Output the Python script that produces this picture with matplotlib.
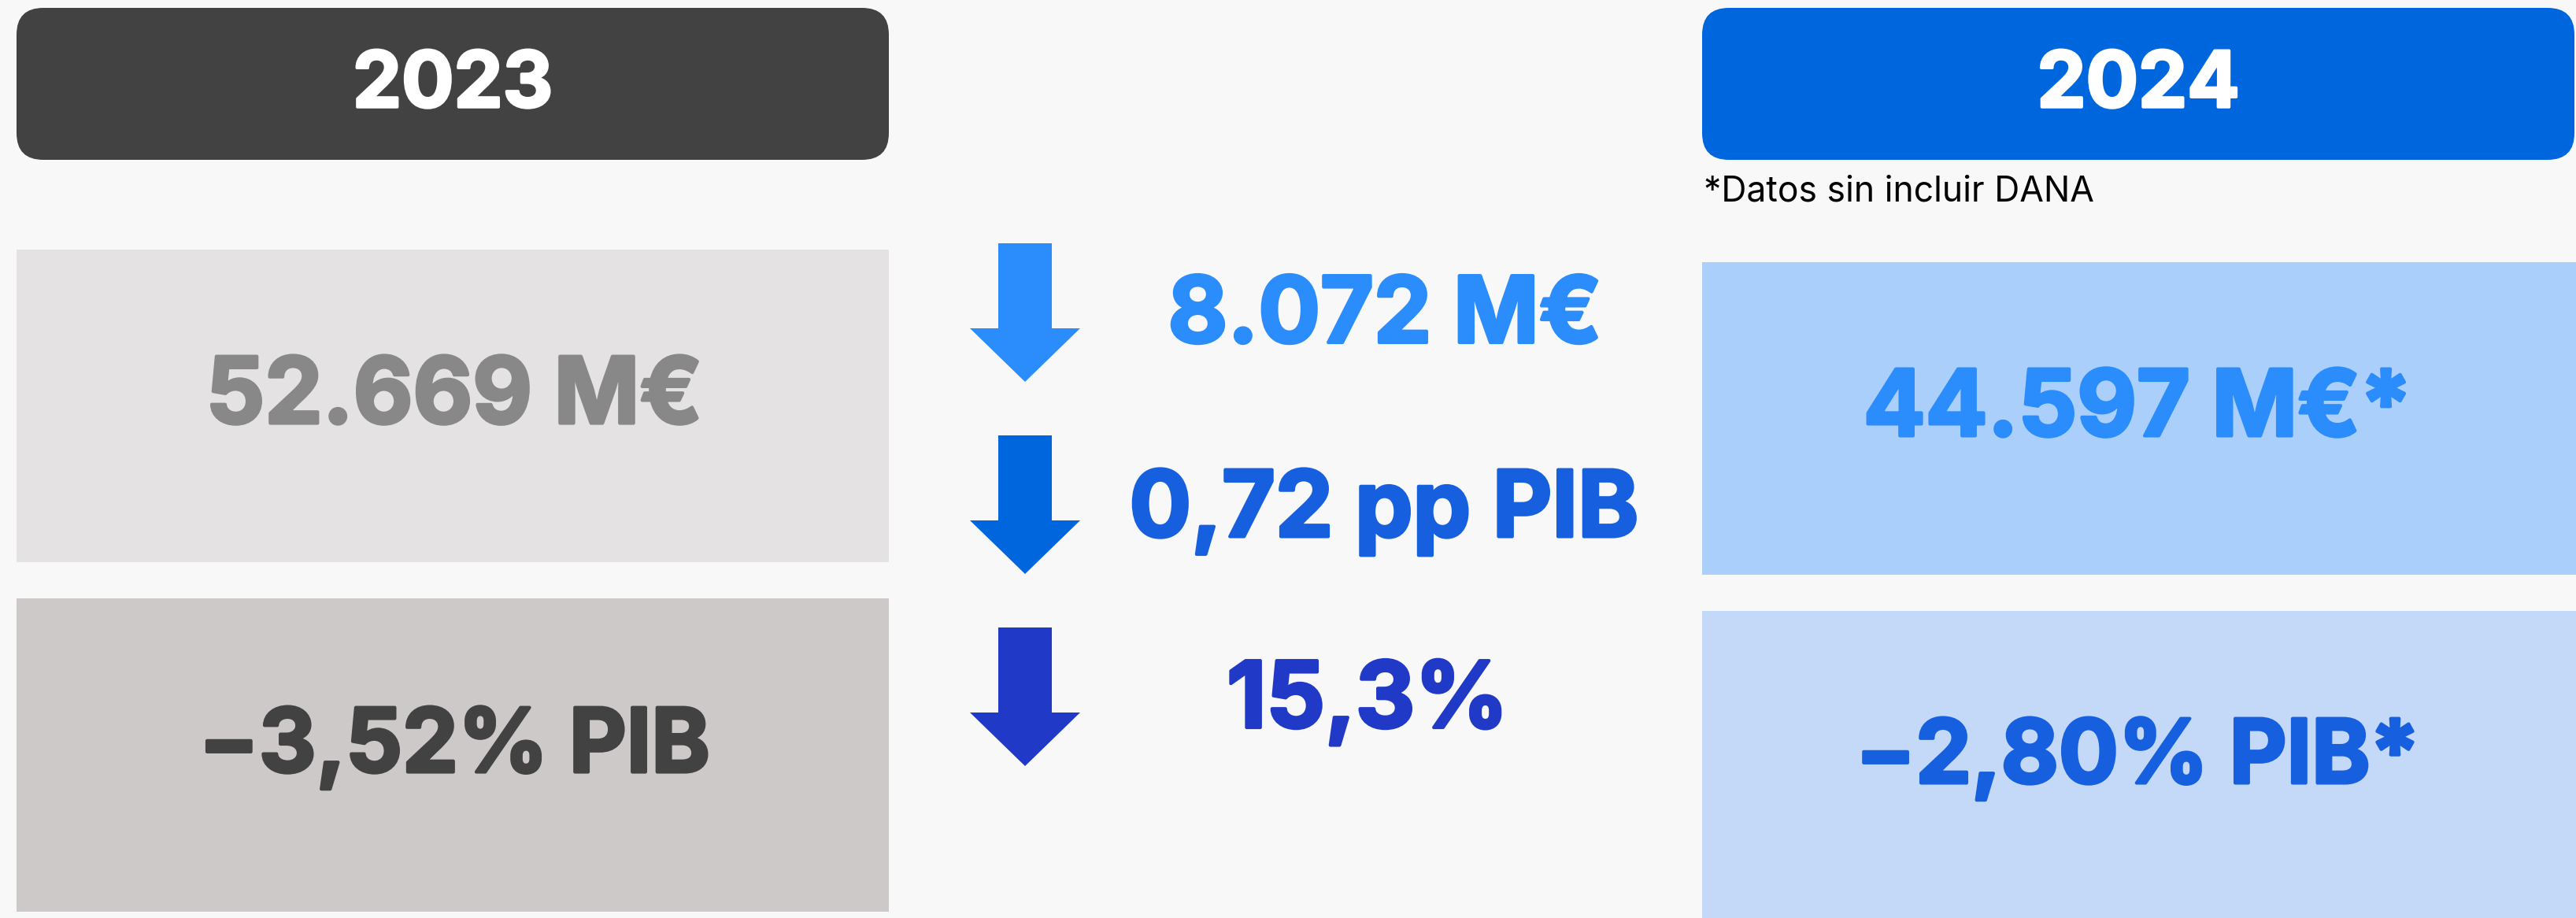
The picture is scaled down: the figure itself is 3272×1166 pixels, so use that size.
import matplotlib.pyplot as plt
import matplotlib.patheffects as pe
from matplotlib.patches import FancyBboxPatch, Rectangle, FancyArrow

# datos
years = ['2023', '2024']
deficit_meur = ['52.669 M€', '44.597 M€*']
deficit_pib = ['−3,52% PIB', '−2,80% PIB*']
changes = ['8.072 M€', '0,72 pp PIB', '15,3%']
note = '*Datos sin incluir DANA'

# estilos
bg = '#F8F8F8'
head_colors = ['#424242', '#0066DD']
box1_colors = ['#E4E2E3', '#AACFFB']
box2_colors = ['#CDC9C8', '#C4D8F7']
txt1_colors = ['#898888', '#2B8CFC']
txt2_colors = ['#424242', '#1660E0']
change_colors = ['#2B8CFC', '#1660E0', '#2139C7']
arrow_colors = ['#2B8CFC', '#0066DD', '#2139C7']

FONT = ['Inter', 'DejaVu Sans']


def bold(c, lw=3.0):
    return [pe.withStroke(linewidth=lw, foreground=c)]


W, H = 3272, 1166
fig = plt.figure(figsize=(W / 100, H / 100), dpi=100, facecolor=bg)
ax = fig.add_axes([0, 0, 1, 1])
ax.set_xlim(0, W)
ax.set_ylim(H, 0)
ax.axis('off')
ax.set_facecolor(bg)

# columnas (x0, x1)
cols = [(21, 1129), (2162, 3272)]
box1_y = [(317, 714), (333, 730)]
box2_y = [(760, 1158), (776, 1170)]
center_x = [577, 2715]

for i, (x0, x1) in enumerate(cols):
    xr = min(x1, 3270)
    ax.add_patch(FancyBboxPatch((x0, 10), xr - x0, 193,
                                boxstyle='round,pad=0,rounding_size=34',
                                fc=head_colors[i], ec='none'))
    ax.text((x0 + xr) / 2, 110, years[i], ha='center', va='center',
            fontsize=71, fontweight='bold', color='white', family=FONT,
            path_effects=bold('white', 2.5))

    y0, y1 = box1_y[i]
    ax.add_patch(Rectangle((x0, y0), x1 - x0, y1 - y0, fc=box1_colors[i], ec='none'))
    ax.text(center_x[i], (y0 + y1) / 2 - 9, deficit_meur[i],
            ha='center', va='center', fontsize=84, fontweight='bold',
            color=txt1_colors[i], family=FONT, path_effects=bold(txt1_colors[i]))

    y0, y1 = box2_y[i]
    ax.add_patch(Rectangle((x0, y0), x1 - x0, y1 - y0, fc=box2_colors[i], ec='none'))
    ax.text(center_x[i], (y0 + y1) / 2 - 8, deficit_pib[i],
            ha='center', va='center', fontsize=81, fontweight='bold',
            color=txt2_colors[i], family=FONT, path_effects=bold(txt2_colors[i]))

ax.text(2164, 244, note, ha='left', va='center', fontsize=32,
        color='black', family=FONT)

# flechas y variaciones
arrow_top = [309, 553, 797]
text_y = [404, 650, 893]
text_x = [1759, 1758, 1737]
for i, ch in enumerate(changes):
    ax.add_patch(FancyArrow(1302, arrow_top[i], 0, 176, width=68,
                            head_width=140, head_length=68,
                            length_includes_head=True,
                            fc=arrow_colors[i], ec='none'))
    ax.text(text_x[i], text_y[i], ch, ha='center', va='center',
            fontsize=84, fontweight='bold', color=change_colors[i], family=FONT,
            path_effects=bold(change_colors[i]))

fig.savefig('out.png', dpi=100, facecolor=bg)
